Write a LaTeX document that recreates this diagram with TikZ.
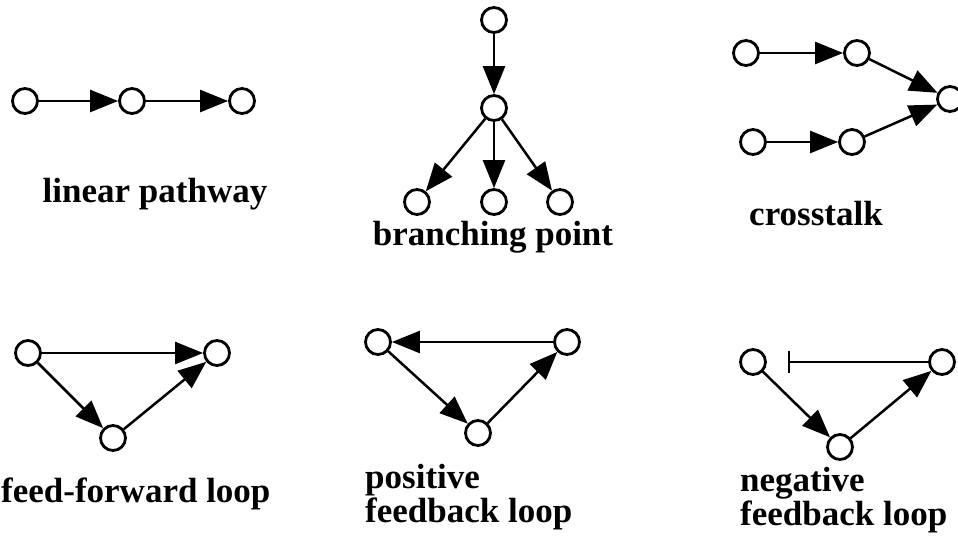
\documentclass[tikz,border=0pt]{standalone}
\usepackage{fontspec}
\setmainfont{Liberation Serif}
\usetikzlibrary{arrows.meta}
\begin{document}
\begin{tikzpicture}[x=1pt,y=-1pt,
  mol/.style={circle,draw,line width=2.8pt,minimum size=25pt,inner sep=0pt},
  act/.style={line width=2.5pt,-{Triangle[length=28pt,width=22pt]}},
  inh/.style={line width=2.5pt,-{Bar[width=22pt,line width=2.5pt]},shorten >=21pt},
  lbl/.style={font=\bfseries\fontsize{35}{34}\selectfont,inner sep=0pt,align=left}]
\useasboundingbox (0,0) rectangle (958,549);
% linear pathway
\node[mol] (l1) at (25,101) {};
\node[mol] (l2) at (132,101) {};
\node[mol] (l3) at (242,101) {};
\draw[act] (l1) -- (l2);
\draw[act] (l2) -- (l3);
\node[lbl,anchor=base] (tl) at (155,202) {linear pathway};
% branching point
\node[mol] (b0) at (494,20) {};
\node[mol] (b1) at (494,108) {};
\node[mol] (b2) at (417,202) {};
\node[mol] (b3) at (494,202) {};
\node[mol] (b4) at (560,202) {};
\draw[act] (b0) -- (b1);
\draw[act] (b1) -- (b2);
\draw[act] (b1) -- (b3);
\draw[act] (b1) -- (b4);
\node[lbl,anchor=base] (tb) at (493,245) {branching point};
% crosstalk
\node[mol] (c1) at (746,53) {};
\node[mol] (c2) at (857,53) {};
\node[mol] (c3) at (950,99) {};
\node[mol] (c4) at (753,142) {};
\node[mol] (c5) at (852,142) {};
\draw[act] (c1) -- (c2);
\draw[act] (c2) -- (c3);
\draw[act] (c4) -- (c5);
\draw[act] (c5) -- (c3);
\node[lbl,anchor=base] (tc) at (816,225) {crosstalk};
% feed-forward loop
\node[mol] (f1) at (28,353) {};
\node[mol] (f2) at (217,353) {};
\node[mol] (f3) at (113,438) {};
\draw[act] (f1) -- (f2);
\draw[act] (f1) -- (f3);
\draw[act] (f3) -- (f2);
\node[lbl,anchor=base west] (tf) at (1,502) {feed-forward loop};
% positive feedback loop
\node[mol] (p1) at (378,342) {};
\node[mol] (p2) at (567,342) {};
\node[mol] (p3) at (478,433) {};
\draw[act] (p2) -- (p1);
\draw[act] (p1) -- (p3);
\draw[act] (p3) -- (p2);
\node[lbl,anchor=base west] (tp) at (365,522) {positive\\feedback loop};
% negative feedback loop
\node[mol] (n1) at (753,362) {};
\node[mol] (n2) at (942,362) {};
\node[mol] (n3) at (840,447) {};
\draw[inh] (n2) -- (n1);
\draw[act] (n1) -- (n3);
\draw[act] (n3) -- (n2);
\node[lbl,anchor=base west] (tn) at (740,525) {negative\\feedback loop};
\end{tikzpicture}
\end{document}
